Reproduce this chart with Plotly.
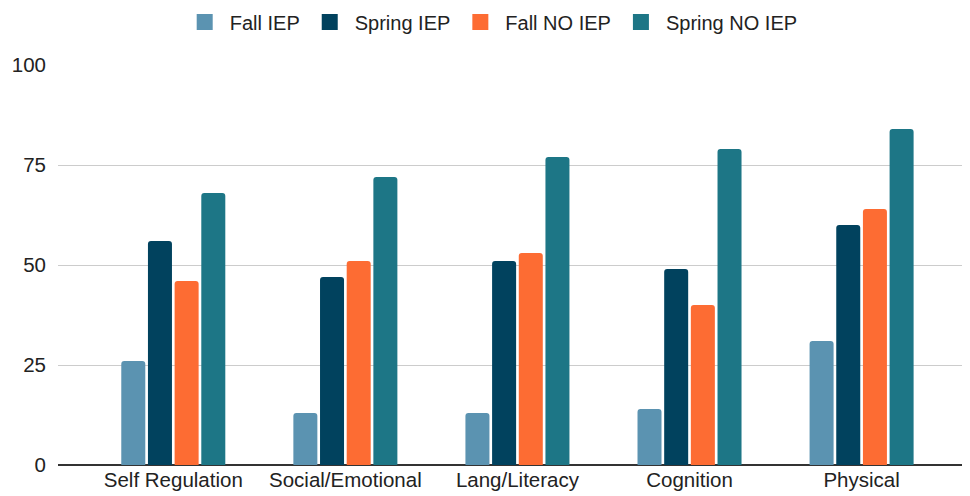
import plotly.graph_objects as go

categories = ["Self Regulation", "Social/Emotional", "Lang/Literacy", "Cognition", "Physical"]
fall_iep = [26, 13, 13, 14, 31]
spring_iep = [56, 47, 51, 49, 60]
fall_no_iep = [46, 51, 53, 40, 64]
spring_no_iep = [68, 72, 77, 79, 84]

series = [
    ("Fall IEP", fall_iep, "#5b93b1"),
    ("Spring IEP", spring_iep, "#01425e"),
    ("Fall NO IEP", fall_no_iep, "#fd6c33"),
    ("Spring NO IEP", spring_no_iep, "#1d7686"),
]

fig = go.Figure()
for name, vals, color in series:
    fig.add_trace(go.Bar(x=categories, y=vals, name=name, marker_color=color,
                         marker_line_width=0, showlegend=False, legendgroup=name))
# square legend swatches
for name, vals, color in series:
    fig.add_trace(go.Scatter(x=[None], y=[None], mode="markers", name=name,
                             legendgroup=name,
                             marker=dict(symbol="square", size=16, color=color)))

# page body adds an 8px offset, margins compensate for it
fig.update_layout(
    width=970, height=496,
    barmode="group", bargap=0.38, bargroupgap=0.1, barcornerradius=3,
    plot_bgcolor="white", paper_bgcolor="white",
    font=dict(family="Liberation Sans, Arial, sans-serif", size=20, color="#222"),
    margin=dict(l=50, r=8, t=57, b=39, autoexpand=False),
    legend=dict(orientation="h", x=0.475, xanchor="center", y=0.972, yanchor="middle",
                yref="container", font=dict(size=20), itemwidth=40,
                traceorder="normal"),
    xaxis=dict(range=[-0.67, 4.63], showgrid=False, ticks="", showline=False,
               tickfont=dict(size=20.5)),
    yaxis=dict(range=[0, 100], tickvals=[0, 25, 50, 75, 100], gridcolor="#cccccc",
               gridwidth=1, zeroline=True, zerolinecolor="#333333", zerolinewidth=1.5,
               ticks="", ticklabelstandoff=11, tickfont=dict(size=20.5)),
)

fig.write_html("out.html")
